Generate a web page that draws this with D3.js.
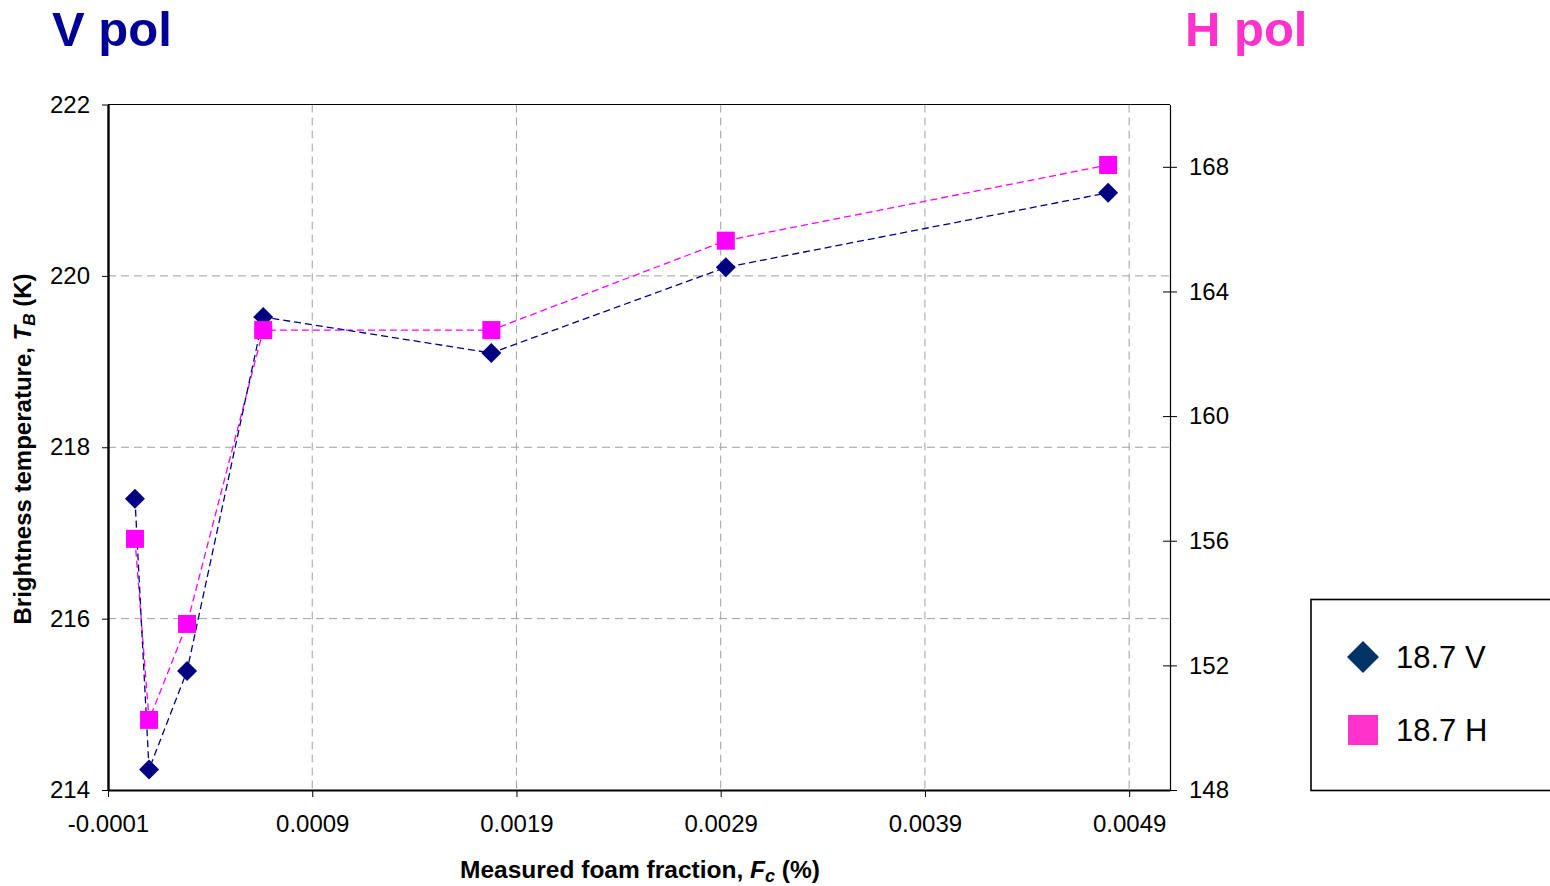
<!DOCTYPE html>
<html><head><meta charset="utf-8">
<script src="https://cdn.jsdelivr.net/npm/d3@7"></script>
<style>
html,body{margin:0;padding:0;background:#fff;}
svg{display:block;font-family:"Liberation Sans",Arial,sans-serif;}
</style></head>
<body>
<svg id="chart" width="1550" height="886"></svg>
<script>
const foamFraction = [0.000032, 0.000101, 0.000287, 0.00066, 0.001777, 0.002925, 0.004797];
const tbV = [217.40, 214.24, 215.39, 219.52, 219.10, 220.10, 220.97];
const tbH = [156.06, 150.25, 153.33, 162.76, 162.76, 165.63, 168.06];
const xTicks = [-0.0001, 0.0009, 0.0019, 0.0029, 0.0039, 0.0049];
const yLeftTicks = [214, 216, 218, 220, 222];
const yRightTicks = [148, 152, 156, 160, 164, 168];
const seriesNames = ["18.7 V", "18.7 H"];

const svg = d3.select("#chart");
const L = 108, R = 1170, T = 104.5, B = 790;
const x = d3.scaleLinear().domain([-0.0001, 0.0051]).range([L, R]);
const yL = d3.scaleLinear().domain([214, 222]).range([B, T]);
const yR = d3.scaleLinear().domain([148, 170]).range([B, T]);

// gridlines
svg.append("g").selectAll("line").data(xTicks.slice(1)).join("line")
  .attr("x1", d => x(d)).attr("x2", d => x(d)).attr("y1", T).attr("y2", B)
  .attr("stroke", "#a0a0a0").attr("stroke-width", 1).attr("stroke-dasharray", "8,5");
svg.append("g").selectAll("line").data(yLeftTicks.slice(1, -1)).join("line")
  .attr("x1", L).attr("x2", R).attr("y1", d => yL(d)).attr("y2", d => yL(d))
  .attr("stroke", "#a0a0a0").attr("stroke-width", 1).attr("stroke-dasharray", "8,5");

// border top
svg.append("line").attr("x1", L).attr("x2", R).attr("y1", T).attr("y2", T).attr("stroke", "#000").attr("stroke-width", 1.2);

// axes
const fmtX = d => d3.format(".4f")(d).replace("\u2212", "-");
const gx = svg.append("g").attr("transform", `translate(0,${B})`)
  .call(d3.axisBottom(x).tickValues(xTicks).tickFormat(fmtX).tickSize(7).tickSizeOuter(0).tickPadding(18));
const gyl = svg.append("g").attr("transform", `translate(${L},0)`)
  .call(d3.axisLeft(yL).tickValues(yLeftTicks).tickSize(6).tickSizeOuter(0).tickPadding(12));
const gyr = svg.append("g").attr("transform", `translate(${R},0)`)
  .call(d3.axisRight(yR).tickValues(yRightTicks).tickSize(7).tickSizeOuter(0).tickPadding(12));
gyr.selectAll(".tick line").attr("x1", -7);
[gx, gyl, gyr].forEach(g => {
  g.select(".domain").attr("stroke", "#000");
  g.selectAll(".tick line").attr("stroke", "#000");
  g.selectAll(".tick text").attr("font-size", 24).attr("fill", "#000")
    .attr("font-family", "'Liberation Sans', Arial, sans-serif");
});
gx.select(".domain").attr("stroke-width", 1.8);
gyl.select(".domain").attr("stroke-width", 2.4);
gyr.select(".domain").attr("stroke-width", 1.2);

// series lines
const ptsV = foamFraction.map((f, i) => [x(f), yL(tbV[i])]);
const ptsH = foamFraction.map((f, i) => [x(f), yR(tbH[i])]);
svg.append("path").attr("d", d3.line()(ptsH)).attr("fill", "none")
  .attr("stroke", "#ff00ff").attr("stroke-width", 1.3).attr("stroke-dasharray", "7,4");
svg.append("path").attr("d", d3.line()(ptsV)).attr("fill", "none")
  .attr("stroke", "#000080").attr("stroke-width", 1.3).attr("stroke-dasharray", "7,4");

// markers
const diamond = d3.symbol().type(d3.symbolSquare).size(200);
svg.append("g").selectAll("path").data(ptsV).join("path")
  .attr("d", diamond()).attr("transform", d => `translate(${d[0]},${d[1]}) rotate(45)`)
  .attr("fill", "#000080");
svg.append("g").selectAll("rect").data(ptsH).join("rect")
  .attr("x", d => d[0] - 9).attr("y", d => d[1] - 9).attr("width", 18).attr("height", 18)
  .attr("fill", "#ff00ff");

// titles
svg.append("text").attr("x", 52).attr("y", 46).text("V pol")
  .attr("font-size", 49).attr("font-weight", "bold").attr("fill", "#000099");
svg.append("text").attr("x", 1185).attr("y", 46).text("H pol")
  .attr("font-size", 49).attr("font-weight", "bold").attr("fill", "#ff33cc");

// axis titles
const xt = svg.append("text").attr("x", 640).attr("y", 878).attr("text-anchor", "middle")
  .attr("font-size", 24.5).attr("font-weight", "bold").attr("fill", "#000");
xt.append("tspan").text("Measured foam fraction, ");
xt.append("tspan").attr("font-style", "italic").text("F");
xt.append("tspan").attr("font-style", "italic").attr("font-size", 18).attr("dy", 4).text("c");
xt.append("tspan").attr("dy", -4).text(" (%)");

const yt = svg.append("text").attr("transform", "translate(31,449) rotate(-90)").attr("text-anchor", "middle")
  .attr("font-size", 24).attr("font-weight", "bold").attr("fill", "#000");
yt.append("tspan").text("Brightness temperature,  ");
yt.append("tspan").attr("font-style", "italic").text("T");
yt.append("tspan").attr("font-style", "italic").attr("font-size", 17).attr("dy", 4).text("B");
yt.append("tspan").attr("dy", -4).text(" (K)");

// legend
svg.append("rect").attr("x", 1311).attr("y", 599.5).attr("width", 260).attr("height", 191)
  .attr("fill", "#fff").attr("stroke", "#000").attr("stroke-width", 1.6);
const lg = svg.append("g");
lg.append("path").attr("d", d3.symbol().type(d3.symbolSquare).size(512)())
  .attr("transform", "translate(1363,657) rotate(45)").attr("fill", "#003366");
lg.append("rect").attr("x", 1348).attr("y", 715).attr("width", 30).attr("height", 30).attr("fill", "#ff33cc");
lg.selectAll("text").data(seriesNames).join("text")
  .attr("x", 1396).attr("y", (d, i) => 668 + i * 73).text(d => d)
  .attr("font-size", 31).attr("fill", "#000");
</script>
</body></html>
